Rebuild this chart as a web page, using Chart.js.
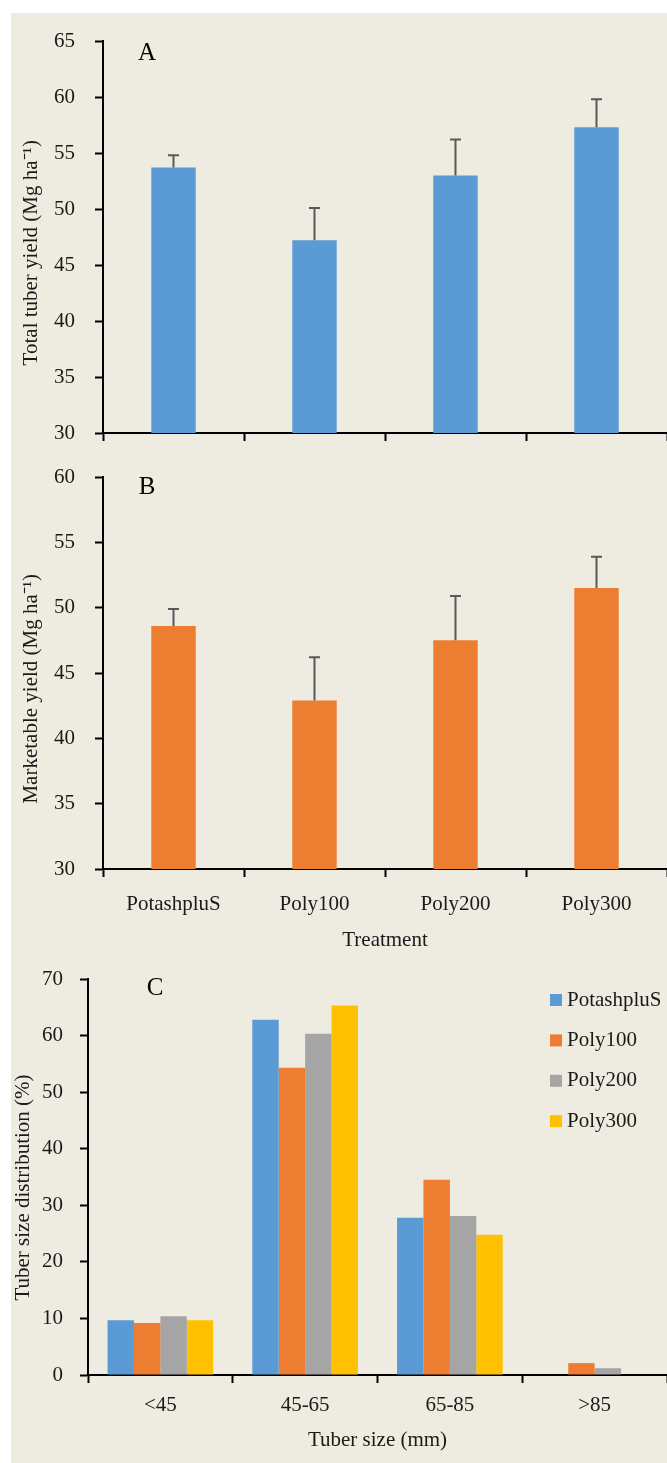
<!DOCTYPE html>
<html>
<head>
<meta charset="utf-8">
<script src="https://cdn.jsdelivr.net/npm/chart.js@4.4.1/dist/chart.umd.min.js"></script>
<style>
  html,body{margin:0;padding:0;background:#fff}
  #page{position:relative;width:667px;height:1463px;overflow:hidden}
  #panel{position:absolute;left:11px;top:13px;right:0;bottom:0;background:#EEEBE0}
  canvas{position:absolute;left:0}
</style>
</head>
<body>
<div id="page">
  <div id="panel"></div>
  <canvas id="chartA" style="top:0"></canvas>
  <canvas id="chartB" style="top:455px"></canvas>
  <canvas id="chartC" style="top:965px"></canvas>
</div>
<script>
// panel A / B: treatment means with upward SE bars
const treatments = ['PotashpluS', 'Poly100', 'Poly200', 'Poly300']
const totalYield = [53.7, 47.2, 53.0, 57.3]
const totalYieldErr = [1.1, 2.9, 3.2, 2.5]
const marketYield = [48.6, 42.9, 47.5, 51.5]
const marketYieldErr = [1.3, 3.3, 3.4, 2.4]
const yTicksA = [30, 65, 5]
const yTicksB = [30, 60, 5]

// panel C: tuber size distribution (%)
const sizeClasses = ['<45', '45-65', '65-85', '>85']
const distPotashpluS = [9.7, 62.8, 27.8, 0]
const distPoly100 = [9.2, 54.3, 34.5, 2.1]
const distPoly200 = [10.4, 60.3, 28.1, 1.2]
const distPoly300 = [9.7, 65.3, 24.8, 0]
const yTicksC = [0, 70, 10]

const FONT = "'Liberation Serif', 'Times New Roman', serif"
const BLUE = '#5B9BD5', ORANGE = '#ED7D31', GRAY = '#A5A5A5', YELLOW = '#FFC000'

Chart.defaults.font.family = FONT
Chart.defaults.font.size = 21
Chart.defaults.color = '#1a1a1a'
Chart.defaults.animation = false

const errorBars = {
  id: 'errorBars',
  afterDatasetsDraw(chart, args, opts){
    if(!opts.values) return
    const {ctx} = chart
    const y = chart.scales.y
    const meta = chart.getDatasetMeta(0)
    const vals = chart.data.datasets[0].data
    ctx.save()
    ctx.strokeStyle = '#595959'
    ctx.lineWidth = 2
    meta.data.forEach((bar, i)=>{
      const y0 = y.getPixelForValue(vals[i])
      const y1 = y.getPixelForValue(vals[i] + opts.values[i])
      ctx.beginPath()
      ctx.moveTo(bar.x, y0)
      ctx.lineTo(bar.x, y1)
      ctx.moveTo(bar.x - 5.5, y1)
      ctx.lineTo(bar.x + 5.5, y1)
      ctx.stroke()
    })
    ctx.restore()
  }
}

const panelLetter = {
  id: 'panelLetter',
  afterDraw(chart, args, opts){
    if(!opts.text) return
    const {ctx, chartArea} = chart
    ctx.save()
    ctx.font = `25px ${FONT}`
    ctx.fillStyle = '#000'
    ctx.textAlign = 'center'
    ctx.textBaseline = 'middle'
    ctx.fillText(opts.text, chartArea.left + opts.dx, chartArea.top + opts.dy)
    ctx.restore()
  }
}

const boxLegend = {
  id: 'boxLegend',
  afterDraw(chart, args, opts){
    if(!opts.show) return
    const {ctx} = chart
    ctx.save()
    ctx.font = `21px ${FONT}`
    ctx.textBaseline = 'middle'
    chart.data.datasets.forEach((ds, i)=>{
      const cy = opts.y + i * opts.step
      ctx.fillStyle = ds.backgroundColor
      ctx.fillRect(opts.x, cy - 6, 12, 12)
      ctx.fillStyle = '#1a1a1a'
      ctx.fillText(ds.label, opts.x + 17, cy)
    })
    ctx.restore()
  }
}

function makeOptions(cfg){
  return {
    responsive: false,
    layout: {padding: {top: cfg.padTop, left: 0, right: 0, bottom: 0}},
    plugins: {
      legend: {display: false},
      tooltip: {enabled: false},
      errorBars: {values: cfg.err},
      panelLetter: cfg.letter,
      boxLegend: cfg.legend || {show: false}
    },
    scales: {
      x: {
        grid: {drawOnChartArea: false, offset: true, tickLength: 8, tickColor: '#000', tickWidth: 2},
        border: {color: '#000', width: 2},
        ticks: {display: cfg.xLabels, padding: cfg.xPad, color: '#1a1a1a'},
        title: {display: !!cfg.xTitle, text: cfg.xTitle, padding: {top: 0, bottom: cfg.xTitlePad}, color: '#1a1a1a'},
        afterFit: s => { s.height = cfg.xHeight; s.paddingLeft = 0; s.paddingRight = 0 }
      },
      y: {
        min: cfg.yTicks[0], max: cfg.yTicks[1],
        grid: {drawOnChartArea: false, tickLength: 8, tickColor: '#000', tickWidth: 2},
        border: {color: '#000', width: 2},
        ticks: {stepSize: cfg.yTicks[2], padding: cfg.yPad, color: '#1a1a1a'},
        title: {display: true, text: cfg.yTitle, padding: {top: cfg.yTitlePad, bottom: 0}, color: '#1a1a1a'},
        // fixed axis box; label overflow is already covered by the layout padding
        afterFit: s => { s.width = cfg.yWidth; s.paddingTop = 0; s.paddingBottom = 0 }
      }
    }
  }
}

function sizeCanvas(id, h){
  const el = document.getElementById(id)
  el.width = 667
  el.height = h
  el.style.width = '667px'
  el.style.height = h + 'px'
  return el
}

new Chart(sizeCanvas('chartA', 455), {
  type: 'bar',
  data: {labels: treatments, datasets: [{label: 'Total tuber yield', data: totalYield, backgroundColor: BLUE, barPercentage: 0.315, categoryPercentage: 1}]},
  options: makeOptions({
    padTop: 41, err: totalYieldErr, letter: {text: 'A', dx: 44, dy: 12},
    xLabels: false, xPad: 0, xTitle: '', xTitlePad: 0, xHeight: 22,
    yTicks: yTicksA, yPad: 20, yTitle: 'Total tuber yield (Mg ha\u207B\u00B9)\u00A0\u00A0\u00A0\u00A0\u00A0\u00A0', yTitlePad: 19, yWidth: 103
  }),
  plugins: [errorBars, panelLetter, boxLegend]
})

new Chart(sizeCanvas('chartB', 510), {
  type: 'bar',
  data: {labels: treatments, datasets: [{label: 'Marketable yield', data: marketYield, backgroundColor: ORANGE, barPercentage: 0.315, categoryPercentage: 1}]},
  options: makeOptions({
    padTop: 22, err: marketYieldErr, letter: {text: 'B', dx: 44, dy: 10},
    xLabels: true, xPad: 15, xTitle: 'Treatment', xTitlePad: 12, xHeight: 96,
    yTicks: yTicksB, yPad: 20, yTitle: 'Marketable yield (Mg ha\u207B\u00B9)\u00A0\u00A0\u00A0\u00A0\u00A0\u00A0', yTitlePad: 19, yWidth: 103
  }),
  plugins: [errorBars, panelLetter, boxLegend]
})

new Chart(sizeCanvas('chartC', 498), {
  type: 'bar',
  data: {
    labels: sizeClasses,
    datasets: [
      {label: 'PotashpluS', data: distPotashpluS, backgroundColor: BLUE},
      {label: 'Poly100', data: distPoly100, backgroundColor: ORANGE},
      {label: 'Poly200', data: distPoly200, backgroundColor: GRAY},
      {label: 'Poly300', data: distPoly300, backgroundColor: YELLOW}
    ].map(d => Object.assign(d, {barPercentage: 1, categoryPercentage: 0.73}))
  },
  options: makeOptions({
    padTop: 14, err: null, letter: {text: 'C', dx: 67, dy: 9},
    legend: {show: true, x: 550, y: 35, step: 40.4},
    xLabels: true, xPad: 10, xTitle: 'Tuber size (mm)', xTitlePad: 10, xHeight: 88,
    yTicks: yTicksC, yPad: 17, yTitle: 'Tuber size distribution (%)\u00A0\u00A0\u00A0\u00A0', yTitlePad: 11, yWidth: 88
  }),
  plugins: [errorBars, panelLetter, boxLegend]
})
</script>
</body>
</html>
